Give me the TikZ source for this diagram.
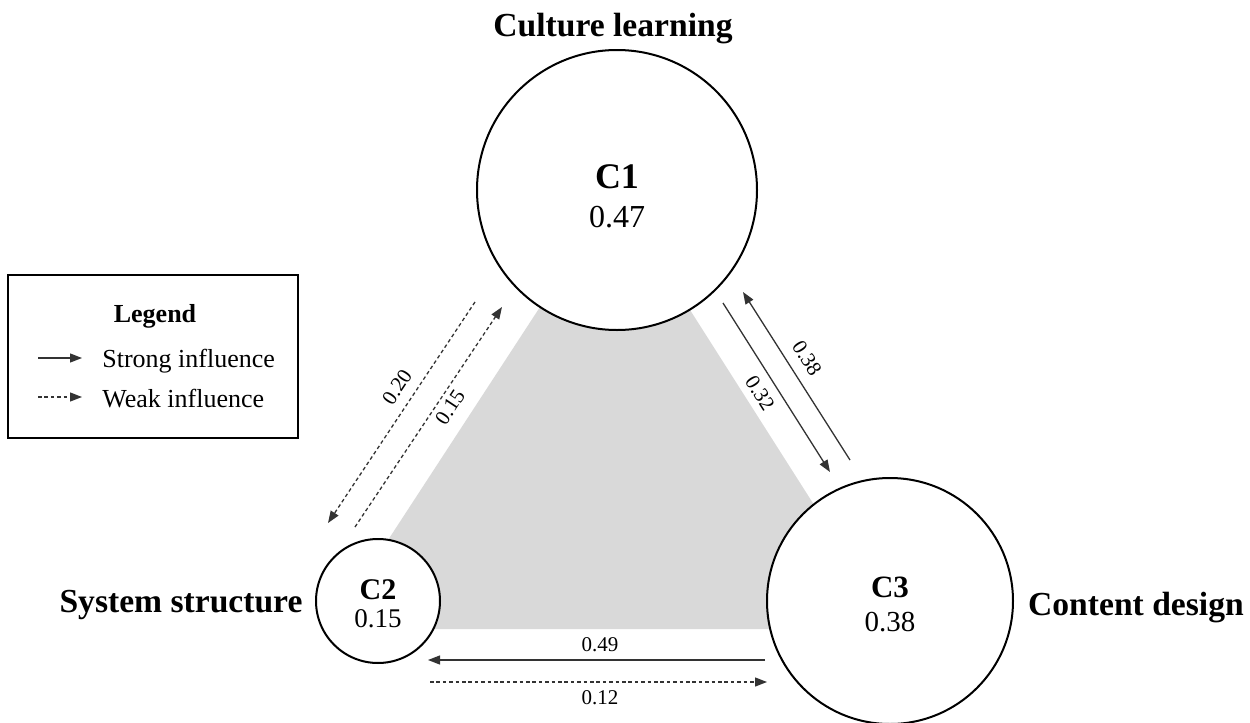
\documentclass[tikz,border=0pt]{standalone}
\usepackage{fontspec}
\setmainfont{Liberation Serif}
\usetikzlibrary{arrows.meta}
\begin{document}
\begin{tikzpicture}[x=0.5pt,y=-0.5pt,
  conc/.style={circle, draw=black, line width=1pt, fill=white, inner sep=0pt},
  cname/.style={font=\fontsize{#1}{#1}\selectfont\bfseries, inner sep=0pt},
  cval/.style={font=\fontsize{#1}{#1}\selectfont, inner sep=0pt},
  ttl/.style={font=\fontsize{16.8}{20}\selectfont\bfseries, inner sep=0pt, anchor=base},
  infl/.style={line width=0.65pt, draw=black!80, -{Triangle[length=6pt,width=4.5pt]}},
  weak/.style={infl, dash pattern=on 1.8pt off 1.4pt},
  wlabel/.style={font=\fontsize{10.5}{12}\selectfont, inner sep=0pt},
  legtxt/.style={font=\fontsize{13}{15}\selectfont, inner sep=0pt, anchor=base west},
]
\useasboundingbox (0,0) rectangle (1250,723);

% shaded triangle
\fill[black!15] (615,192) -- (330,629) -- (893,629) -- cycle;

% concept circles
\node[conc, minimum size=140pt] (c1) at (617,190) {};
\node[conc, minimum size=62pt] (c2) at (378,601) {};
\node[conc, minimum size=123pt] (c3) at (890,601) {};

\node[cname=18] (c1n) at (617,177) {C1};
\node[cval=16] (c1v) at (617,217) {0.47};
\node[cname=15] (c2n) at (378,590) {C2};
\node[cval=13.5] (c2v) at (378,619) {0.15};
\node[cname=15.5] (c3n) at (890,587) {C3};
\node[cval=14.5] (c3v) at (890,622) {0.38};

% titles
\node[ttl] (t1) at (613,36) {Culture learning};
\node[ttl] (t2) at (181,612) {System structure};
\node[ttl] (t3) at (1136,615) {Content design};

% influence arrows
\coordinate (p20a) at (475,302); \coordinate (p20b) at (328,523);
\coordinate (p15a) at (355,527); \coordinate (p15b) at (502,307);
\coordinate (p38a) at (850,460); \coordinate (p38b) at (743,292);
\coordinate (p32a) at (723,303); \coordinate (p32b) at (830,472);
\coordinate (p49a) at (765,660); \coordinate (p49b) at (428,660);
\coordinate (p12a) at (430,682); \coordinate (p12b) at (767,682);

\draw[weak] (p20a) -- (p20b);
\draw[weak] (p15a) -- (p15b);
\draw[infl] (p38a) -- (p38b);
\draw[infl] (p32a) -- (p32b);
\draw[infl] (p49a) -- (p49b);
\draw[weak] (p12a) -- (p12b);

\node[wlabel, rotate=56.4] (l20) at (397,387) {0.20};
\node[wlabel, rotate=56.4] (l15) at (450,407) {0.15};
\node[wlabel, rotate=-57.5] (l38) at (807,358) {0.38};
\node[wlabel, rotate=-57.5] (l32) at (760,393) {0.32};
\node[wlabel] (l49) at (600,645) {0.49};
\node[wlabel] (l12) at (600,698) {0.12};

% legend
\node[draw=black, line width=1.3pt, minimum width=145pt, minimum height=81.5pt, inner sep=0pt] (leg) at (153,356.5) {};
\node[font=\fontsize{13}{15}\selectfont\bfseries, inner sep=0pt, anchor=base] (legt) at (155,322) {Legend};
\coordinate (ls1) at (38,358); \coordinate (ls2) at (82,358);
\coordinate (lw1) at (38,397); \coordinate (lw2) at (82,397);
\draw[infl] (ls1) -- (ls2);
\draw[weak] (lw1) -- (lw2);
\node[legtxt] (lst) at (102,367) {Strong influence};
\node[legtxt] (lwt) at (102,407) {Weak influence};
\end{tikzpicture}
\end{document}
